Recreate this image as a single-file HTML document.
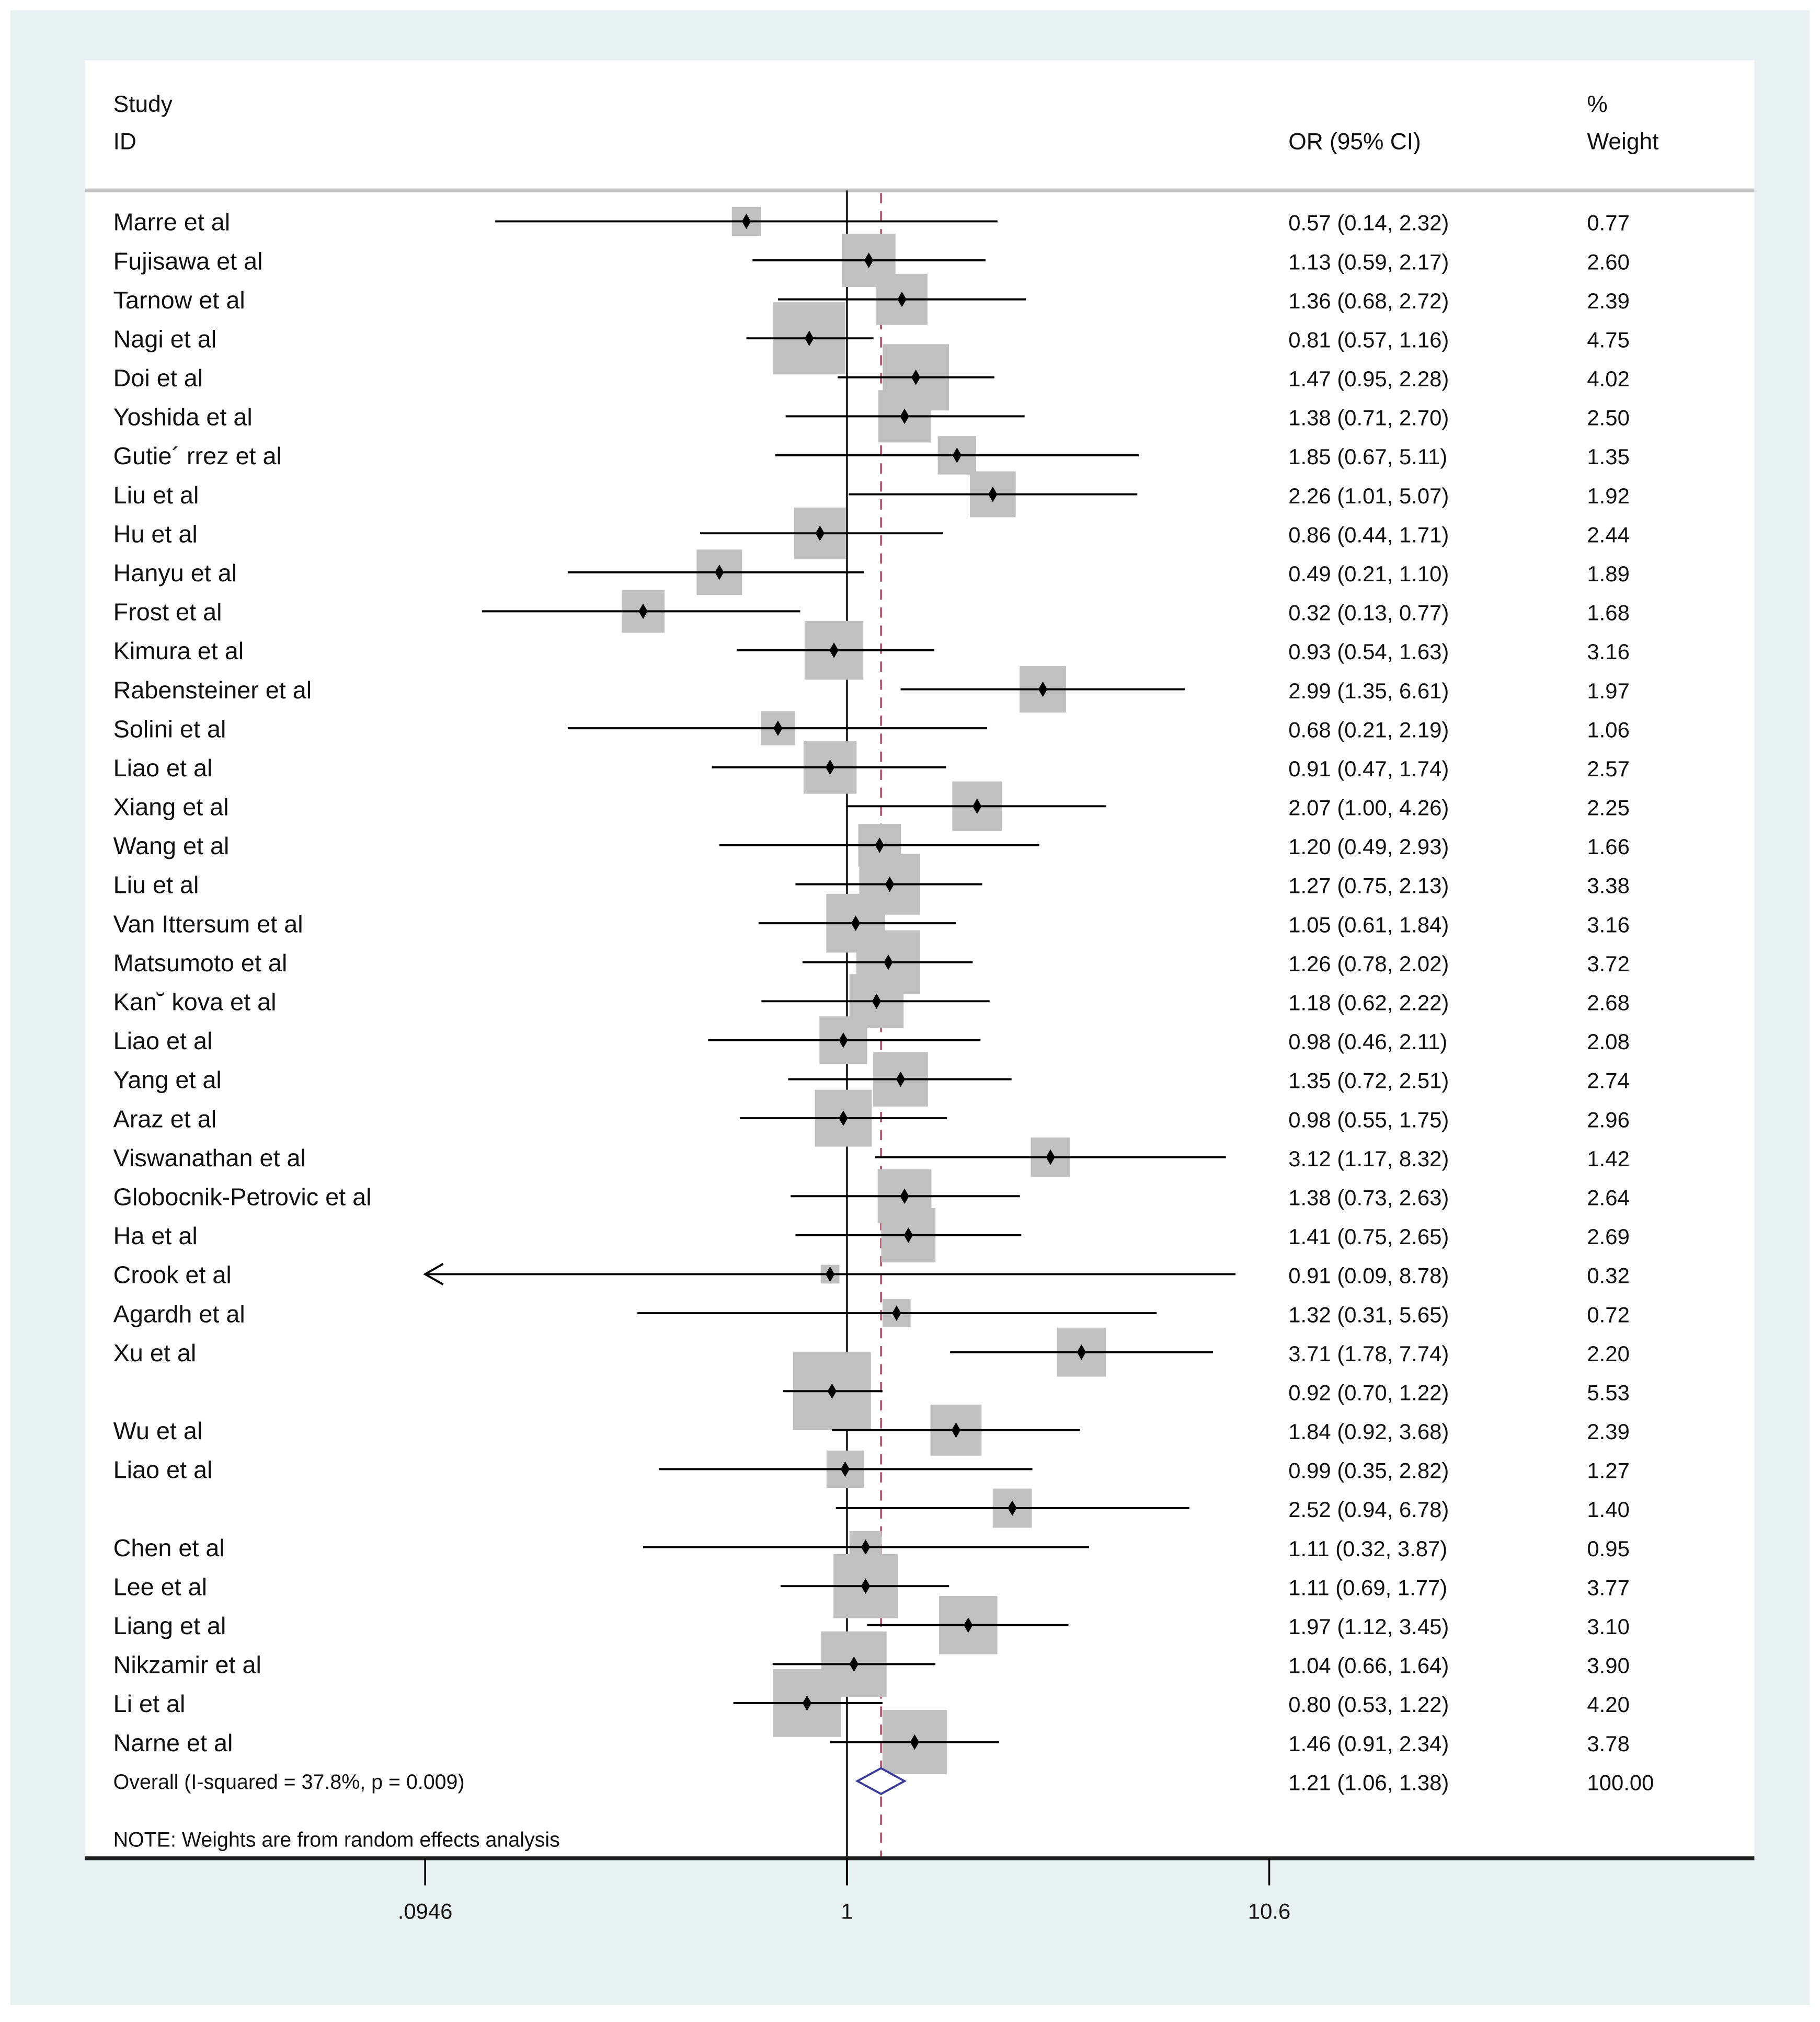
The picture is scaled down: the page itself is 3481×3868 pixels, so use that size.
<!DOCTYPE html>
<html><head><meta charset="utf-8">
<style>
html,body{margin:0;padding:0;background:#fff;}
svg{display:block;}
text{font-family:"Liberation Sans",sans-serif;fill:#111;}
</style></head>
<body>
<svg id="chart" width="3481" height="3868" viewBox="0 0 1414 1571.2" preserveAspectRatio="none" xmlns="http://www.w3.org/2000/svg">
<rect x="0" y="0" width="1414" height="1571.2" fill="#ffffff"/>
<rect x="8" y="8" width="1398" height="1550" fill="#e7f1f2"/>
<rect x="66" y="47" width="1297" height="1397" fill="#ffffff"/>
<g id="head">
<text x="88" y="87" font-size="18">Study</text>
<text x="88" y="116" font-size="18">ID</text>
<text x="1001" y="116" font-size="18">OR (95% CI)</text>
<text x="1233" y="87" font-size="18">%</text>
<text x="1233" y="116" font-size="18">Weight</text>
</g>
<line x1="66" y1="148" x2="1363" y2="148" stroke="#c4c4c4" stroke-width="3"/>
<g id="marks"></g>
</svg>
<script>
const labels=["Marre et al","Fujisawa et al","Tarnow et al","Nagi et al","Doi et al","Yoshida et al","Gutie´ rrez et al","Liu et al","Hu et al","Hanyu et al","Frost et al","Kimura et al","Rabensteiner et al","Solini et al","Liao et al","Xiang et al","Wang et al","Liu et al","Van Ittersum et al","Matsumoto et al","Kan˘ kova et al","Liao et al","Yang et al","Araz et al","Viswanathan et al","Globocnik-Petrovic et al","Ha et al","Crook et al","Agardh et al","Xu et al","","Wu et al","Liao et al","","Chen et al","Lee et al","Liang et al","Nikzamir et al","Li et al","Narne et al"];
const orVals=[0.57,1.13,1.36,0.81,1.47,1.38,1.85,2.26,0.86,0.49,0.32,0.93,2.99,0.68,0.91,2.07,1.20,1.27,1.05,1.26,1.18,0.98,1.35,0.98,3.12,1.38,1.41,0.91,1.32,3.71,0.92,1.84,0.99,2.52,1.11,1.11,1.97,1.04,0.80,1.46];
const loVals=[0.14,0.59,0.68,0.57,0.95,0.71,0.67,1.01,0.44,0.21,0.13,0.54,1.35,0.21,0.47,1.00,0.49,0.75,0.61,0.78,0.62,0.46,0.72,0.55,1.17,0.73,0.75,0.09,0.31,1.78,0.70,0.92,0.35,0.94,0.32,0.69,1.12,0.66,0.53,0.91];
const hiVals=[2.32,2.17,2.72,1.16,2.28,2.70,5.11,5.07,1.71,1.10,0.77,1.63,6.61,2.19,1.74,4.26,2.93,2.13,1.84,2.02,2.22,2.11,2.51,1.75,8.32,2.63,2.65,8.78,5.65,7.74,1.22,3.68,2.82,6.78,3.87,1.77,3.45,1.64,1.22,2.34];
const weights=[0.77,2.60,2.39,4.75,4.02,2.50,1.35,1.92,2.44,1.89,1.68,3.16,1.97,1.06,2.57,2.25,1.66,3.38,3.16,3.72,2.68,2.08,2.74,2.96,1.42,2.64,2.69,0.32,0.72,2.20,5.53,2.39,1.27,1.40,0.95,3.77,3.10,3.90,4.20,3.78];
const overall={or:1.21,lo:1.06,hi:1.38,label:"Overall  (I-squared = 37.8%, p = 0.009)",w:"100.00"};
const tickVals=[0.0946,1,10.6];
const tickLabels=[".0946","1","10.6"];

const NS="http://www.w3.org/2000/svg";
const g=document.getElementById('marks');
const xMin=0.0946;
function xs(v){return 658+320*Math.log10(v);}
function ys(i){return 172+i*30.3;}
function mk(tag,attrs){const e=document.createElementNS(NS,tag);for(const k in attrs)e.setAttribute(k,attrs[k]);g.appendChild(e);return e;}
function f2(v){return v.toFixed(2);}

let e=mk('line',{x1:xs(1),y1:148,x2:xs(1),y2:1465,stroke:'#222','stroke-width':1.6});


e=mk('line',{x1:xs(overall.or),y1:150,x2:xs(overall.or),y2:1443,stroke:'#b5485e','stroke-width':1.4,'stroke-dasharray':'8,6'});



labels.forEach((lab,i)=>{
  const y=ys(i);
  const side=25.7*Math.sqrt(weights[i]);
  const cx=xs(orVals[i]);
  let b=mk('rect',{x:cx-side/2,y:y-side/2,width:side,height:side,fill:'#c0c0c0'});
  
  
  const lo=Math.max(loVals[i],xMin);
  let l=mk('line',{x1:xs(lo),y1:y,x2:xs(hiVals[i]),y2:y,stroke:'#000','stroke-width':1.6});
  
  
  if(loVals[i]<xMin){
    let a=mk('polyline',{points:`${xs(xMin)+14},${y-8} ${xs(xMin)},${y} ${xs(xMin)+14},${y+8}`,fill:'none',stroke:'#000','stroke-width':1.6});
    
    
  }
  let p=mk('polygon',{points:`${cx},${y-6} ${cx+3.5},${y} ${cx},${y+6} ${cx-3.5},${y}`,fill:'#000'});
  
  
  if(lab){let t=mk('text',{x:88,y:y+7,'font-size':19});t.textContent=lab;
  
  }
  let t2=mk('text',{x:1001,y:y+7,'font-size':17});t2.textContent=`${f2(orVals[i])} (${f2(loVals[i])}, ${f2(hiVals[i])})`;
  
  
  let t3=mk('text',{x:1233,y:y+7,'font-size':17});t3.textContent=f2(weights[i]);
  
  
});
const oy=ys(labels.length);
let d=mk('polygon',{points:`${xs(overall.lo)},${oy} ${xs(overall.or)},${oy-10} ${xs(overall.hi)},${oy} ${xs(overall.or)},${oy+10}`,fill:'#fff',stroke:'#3b3b9c','stroke-width':1.6});


let ot=mk('text',{x:88,y:oy+6,'font-size':16});ot.textContent=overall.label;


let ov=mk('text',{x:1001,y:oy+7,'font-size':17});ov.textContent=`${f2(overall.or)} (${f2(overall.lo)}, ${f2(overall.hi)})`;


let ow=mk('text',{x:1233,y:oy+7,'font-size':17});ow.textContent=overall.w;


let nt=mk('text',{x:88,y:1435,'font-size':16});nt.textContent="NOTE: Weights are from random effects analysis";


let ax=mk('line',{x1:66,y1:1444,x2:1363,y2:1444,stroke:'#222','stroke-width':3});


tickVals.forEach((v,i)=>{
  let tk=mk('line',{x1:xs(v),y1:1444,x2:xs(v),y2:1465,stroke:'#000','stroke-width':1.4});
  
  
  let tl=mk('text',{x:xs(v),y:1491,'font-size':17,'text-anchor':'middle'});tl.textContent=tickLabels[i];
  
  
});
</script>
</body></html>
